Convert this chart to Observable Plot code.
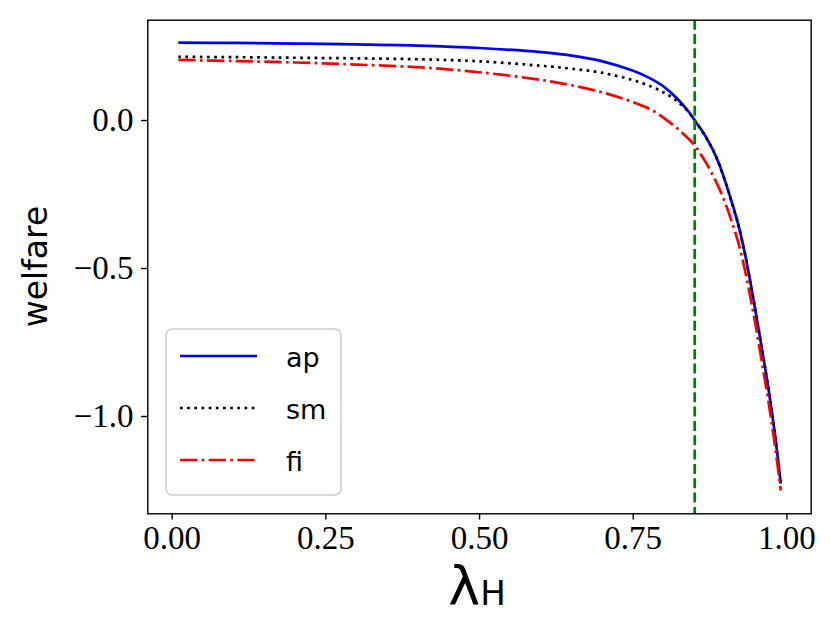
<!DOCTYPE html>
<html>
<head>
<meta charset="utf-8">
<script src="https://cdn.jsdelivr.net/npm/d3@7"></script>
<script src="https://cdn.jsdelivr.net/npm/@observablehq/plot@0.6"></script>
<style>
  html, body { margin: 0; padding: 0; background: white; }
  #chart { position: relative; width: 831px; height: 630px; }
</style>
</head>
<body>
<div id="chart"></div>
<script>
// ---- data ----
const lam = [0.01, 0.1, 0.2, 0.3, 0.4, 0.5, 0.6, 0.65, 0.7, 0.75, 0.78, 0.8, 0.82, 0.84, 0.85,
             0.86, 0.87, 0.88, 0.89, 0.9, 0.91, 0.92, 0.93, 0.94, 0.95, 0.96, 0.97, 0.98, 0.99];
const ap = [0.263, 0.262, 0.260, 0.257, 0.253, 0.245, 0.231, 0.219, 0.200, 0.168, 0.140, 0.114, 0.077, 0.030, 0.000,
            -0.029, -0.062, -0.101, -0.149, -0.208, -0.274, -0.345, -0.433, -0.540, -0.657, -0.780, -0.907, -1.053, -1.227];
const sm = [0.215, 0.214, 0.212, 0.210, 0.207, 0.200, 0.185, 0.175, 0.161, 0.136, 0.114, 0.094, 0.068, 0.028, 0.000,
            -0.029, -0.062, -0.101, -0.149, -0.208, -0.274, -0.345, -0.433, -0.540, -0.657, -0.780, -0.907, -1.053, -1.227];
const fi = [0.205, 0.201, 0.196, 0.189, 0.180, 0.163, 0.137, 0.119, 0.095, 0.062, 0.036, 0.008, -0.024, -0.062, -0.084,
            -0.115, -0.148, -0.187, -0.230, -0.281, -0.340, -0.406, -0.490, -0.591, -0.702, -0.825, -0.950, -1.090, -1.250];
const threshold = [0.85];
const xTicks = [0, 0.25, 0.5, 0.75, 1.0];
const yTicks = [0, -0.5, -1.0];
const seriesNames = ["ap", "sm", "fi"];
const seriesColors = ["#0000ff", "#000000", "#ff0000"];
const seriesDash = ["none", "2.7,4.47", "17.3,4.33,2.7,4.33"];
const seriesValues = [ap, sm, fi];

const rows = seriesNames.map((name, i) => lam.map((x, j) => ({x, y: seriesValues[i][j], name})));

const lineMarks = rows.map((data, i) => Plot.line(data, {
  x: "x", y: "y", stroke: seriesColors[i], strokeWidth: 2.7,
  strokeDasharray: seriesDash[i], curve: "catmull-rom", strokeLinecap: "butt"
}));

const chart = Plot.plot({
  width: 831, height: 630,
  marginLeft: 147.3, marginRight: 20.3, marginTop: 19.7, marginBottom: 116.7,
  x: {domain: [-0.0397, 1.0395]},
  y: {domain: [-1.3287, 0.3389]},
  style: {fontFamily: "Liberation Serif", fontSize: "33px", color: "black", background: "white"},
  marks: [
    ...lineMarks,
    Plot.ruleX(threshold, {stroke: "#008000", strokeWidth: 2.7, strokeDasharray: "10,4.33"}),
    Plot.frame({stroke: "black", strokeWidth: 1.4}),
    Plot.axisX({ticks: xTicks, tickFormat: d3.format(".2f"), tickSize: 6.3, tickPadding: 5,
                strokeWidth: 1.4, label: null, fontSize: 33}),
    Plot.axisY({ticks: yTicks, tickFormat: d3.format(".1f"), tickSize: 6.3, tickPadding: 8,
                strokeWidth: 1.4, label: null, fontSize: 33})
  ]
});
document.getElementById("chart").appendChild(chart);

// ---- axis labels & legend ----
const svg = d3.select(chart);
svg.append("text")
  .attr("transform", "translate(47,266.5) rotate(-90)")
  .attr("text-anchor", "middle")
  .attr("font-family", "DejaVu Sans")
  .attr("font-size", 33)
  .attr("fill", "black")
  .text("welfare");

const xl = svg.append("text")
  .attr("x", 477).attr("y", 605)
  .attr("text-anchor", "middle")
  .attr("font-family", "DejaVu Sans")
  .attr("fill", "black");
xl.append("tspan").attr("font-size", 54).text("λ");
xl.append("tspan").attr("font-size", 34).text("H");

const leg = svg.append("g");
leg.append("rect")
  .attr("x", 166).attr("y", 329).attr("width", 175).attr("height", 166)
  .attr("rx", 6).attr("fill", "white").attr("fill-opacity", 0.8)
  .attr("stroke", "#cccccc").attr("stroke-width", 1.4);
const rowY = [356, 408, 460];
seriesNames.forEach((name, i) => {
  leg.append("line")
    .attr("x1", 180).attr("x2", 257).attr("y1", rowY[i]).attr("y2", rowY[i])
    .attr("stroke", seriesColors[i]).attr("stroke-width", 2.7)
    .attr("stroke-dasharray", seriesDash[i]);
  leg.append("text")
    .attr("x", 286).attr("y", rowY[i] + 10.5)
    .attr("text-anchor", "start")
    .attr("font-family", "DejaVu Sans").attr("font-size", 27)
    .attr("fill", "black")
    .text(name);
});
</script>
</body>
</html>
